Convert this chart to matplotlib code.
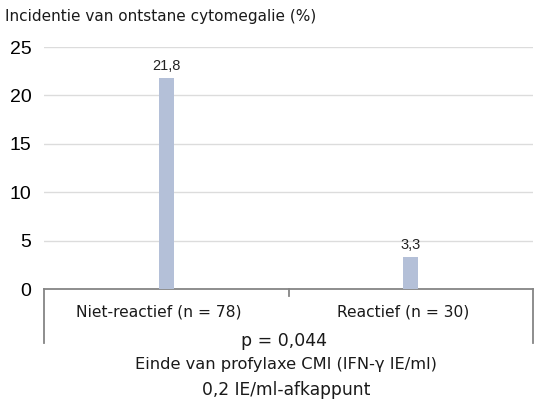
import matplotlib
matplotlib.use('Agg')
import matplotlib.pyplot as plt

categories = ['Niet-reactief (n = 78)', 'Reactief (n = 30)']
incidence = [21.8, 3.3]
value_labels = ['21,8', '3,3']
yticks = [0, 5, 10, 15, 20, 25]

txt_font = 'DejaVu Sans'
num_font = 'Liberation Sans'

fig = plt.figure(figsize=(5.34, 4.07), dpi=100)
ax = fig.add_axes([44/534, 1 - 289/407, 489/534, 242/407])

x = list(range(len(categories)))
bars = ax.bar(x, incidence, width=0.063, color='#b4c0d8', zorder=3)
for rect, lab in zip(bars, value_labels):
    ax.text(rect.get_x() + rect.get_width()/2.0, rect.get_height() + 0.5, lab,
            ha='center', va='bottom', fontsize=10.5, family=num_font, color='#222222')

ax.set_xlim(-0.5, 1.5)
ax.set_ylim(0, 25)
ax.set_yticks(yticks)
ax.set_yticklabels([str(t) for t in yticks], fontsize=14, family=num_font)
ax.tick_params(axis='y', length=0, pad=9)
ax.set_xticks([])
ax.grid(axis='y', color='#dcdcdc', lw=1, zorder=0)
for s in ['left', 'right', 'top']:
    ax.spines[s].set_visible(False)
ax.spines['bottom'].set_color('#858585')
ax.spines['bottom'].set_linewidth(1.3)

# category dividers below the axis
for xv, depth in [(-0.5, -5.6), (0.5, -0.7), (1.5, -5.6)]:
    ax.plot([xv, xv], [0, depth], color='#858585', lw=1.3, clip_on=False)

for xi, cat in zip(x, categories):
    ax.text(xi - 0.03, -2.4, cat, ha='center', va='center', fontsize=11.2,
            family=txt_font, color='#1a1a1a')

fig.text(5/534, 1 - 17/407, 'Incidentie van ontstane cytomegalie (%)',
         ha='left', va='center', fontsize=11, family=txt_font, color='#1a1a1a')
fig.text(284/534, 1 - 341/407, 'p = 0,044', ha='center', va='center',
         fontsize=12.5, family=txt_font, color='#1a1a1a')
fig.text(286/534, 1 - 365/407, 'Einde van profylaxe CMI (IFN-\u03b3 IE/ml)',
         ha='center', va='center', fontsize=11.7, family=txt_font, color='#1a1a1a')
fig.text(286/534, 1 - 390/407, '0,2 IE/ml-afkappunt', ha='center', va='center',
         fontsize=12.3, family=txt_font, color='#1a1a1a')

fig.savefig('out.png', dpi=100)
